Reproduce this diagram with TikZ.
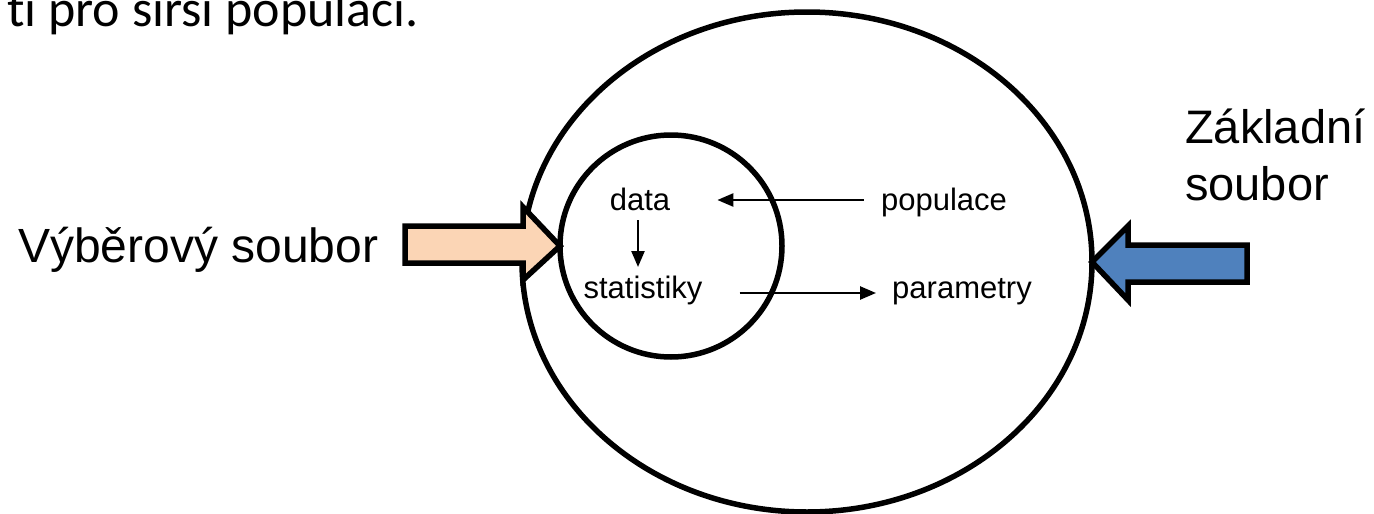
\documentclass[tikz,border=0pt]{standalone}
\usepackage{fontspec}
\setmainfont{Liberation Sans}
\newfontfamily\calibri[Ligatures={NoCommon}, Contextuals={NoAlternate}]{Carlito}
\usepackage{tikz}
\usetikzlibrary{shapes.geometric,positioning,calc,arrows.meta}
\definecolor{peach}{HTML}{FBD5B5}
\definecolor{officeBlue}{HTML}{4F81BD}

\tikzset{
  popisek/.style={inner sep=0pt, anchor=base west, font=\fontsize{47}{57}\selectfont},
  maly/.style={inner sep=0pt, anchor=base, font=\fontsize{31}{37}\selectfont},
  tenka/.style={-{Triangle[length=16pt,width=13pt]}, line width=2.4pt},
  sipka/.style={line width=5.5pt, line join=miter},
  kruh/.style={draw, line width=5.5pt, inner sep=0pt, outer sep=0pt}
}

\begin{document}
\begin{tikzpicture}[x=1pt, y=-1pt]
                \useasboundingbox (0,0) rectangle (1374,514);
                \node[inner sep=0pt, anchor=base west, font=\calibri\fontsize{52}{60}\selectfont] (veta) at (7,27) {t\kern0pt i pro širší populaci.};
                \node[kruh, ellipse, minimum width=570pt, minimum height=500pt] (zakladni) at (807,262) {};
                \node[kruh, circle, minimum size=222pt] (vyberovy) at (671,246) {};
                \node[popisek, font=\fontsize{48}{57}\selectfont] (vyber) at (18,262) {Výběrový soubor};
                \node[popisek, align=left] (zakl) at (1185,200) {Základní\\soubor};
                \node[maly] (data) at (640,210) {data};
                \node[maly] (populace) at (944,210) {populace};
                \node[maly] (statistiky) at (643,298) {statistiky};
                \node[maly] (parametry) at (962,298) {parametry};
                \draw[sipka, fill=peach] (405,226) -- (523,226) -- (523,207) -- (vyberovy.west) -- (523,280) -- (523,263) -- (405,263) -- cycle;
                \draw[sipka, fill=officeBlue] (1247,245) -- (1128,245) -- (1128,226) -- (zakladni.east) -- (1128,300) -- (1128,282) -- (1247,282) -- cycle;
                \draw[tenka] ([xshift=-17pt,yshift=10pt]populace.base west) -- ([xshift=47pt,yshift=10pt]data.base east);
                \draw[tenka] ([xshift=-2pt,yshift=-10pt]data.base) -- ([xshift=-5pt,yshift=31pt]statistiky.base);
                \draw[tenka] ([xshift=37pt,yshift=5pt]statistiky.base east) -- ([xshift=-16pt,yshift=5pt]parametry.base west);
            \end{tikzpicture}
\end{document}
